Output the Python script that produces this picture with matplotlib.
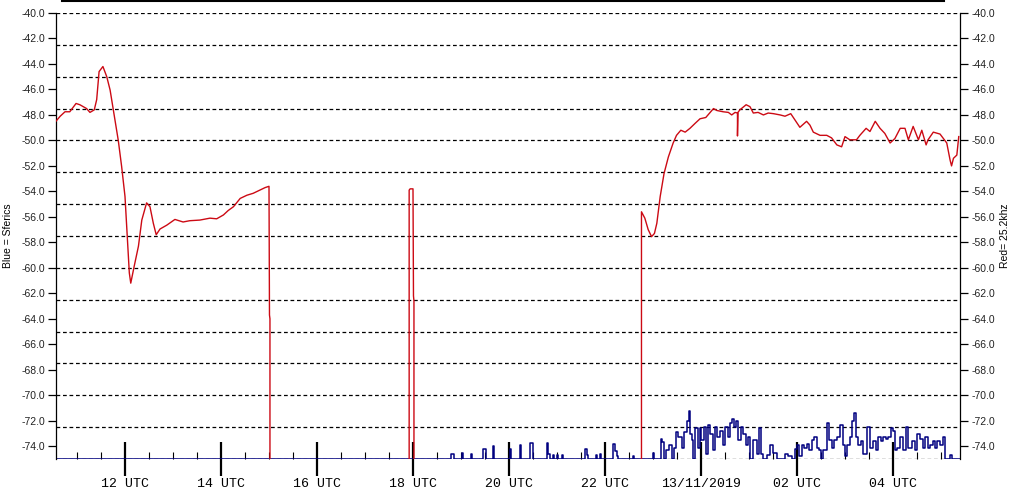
import numpy as np
import matplotlib
matplotlib.use('Agg')
import matplotlib.pyplot as plt
from matplotlib.lines import Line2D
from matplotlib.ticker import MultipleLocator, FormatStrFormatter, FixedLocator

# Time axis: hours since 00 UTC on 12/11/2019
# Red trace (25.2 kHz signal), NaN breaks between the three pieces
red_hours = [
    10.56, 10.65, 10.75, 10.85, 10.98, 11.06, 11.20, 11.27, 11.36, 11.41,
    11.46, 11.54, 11.62, 11.69, 11.77, 11.86, 11.93, 12.00, 12.05, 12.09,
    12.12, 12.19, 12.28, 12.35, 12.45, 12.52, 12.59, 12.65, 12.73, 12.87,
    13.04, 13.21, 13.35, 13.56, 13.77, 13.91, 14.05, 14.15, 14.26, 14.40,
    14.54, 14.67, 14.81, 14.92, 15.00, 15.01, 15.02, 15.02, np.nan,
    17.92, 17.92, 17.94, 18.00, 18.01, 18.02, 18.02, np.nan,
    22.76, 22.76, 22.83, 22.90, 22.97, 23.03, 23.08, 23.15, 23.23, 23.32,
    23.42, 23.49, 23.58, 23.67, 23.77, 23.88, 23.98, 24.10, 24.19, 24.26,
    24.33, 24.46, 24.57, 24.64, 24.71, 24.76, 24.76, 24.77, 24.81, 24.94,
    25.02, 25.09, 25.19, 25.30, 25.40, 25.51, 25.65, 25.75, 25.87, 25.96,
    26.06, 26.20, 26.27, 26.34, 26.48, 26.62, 26.72, 26.83, 26.93, 27.00,
    27.10, 27.24, 27.31, 27.44, 27.52, 27.63, 27.73, 27.83, 27.94, 28.04,
    28.15, 28.25, 28.32, 28.42, 28.53, 28.60, 28.69, 28.73, 28.84, 28.98,
    29.05, 29.12, 29.19, 29.22, 29.26, 29.33, 29.37,
]
red_level = [
    -48.5, -48.1, -47.75, -47.75, -47.1, -47.2, -47.5, -47.8, -47.6, -46.8,
    -44.6, -44.2, -45.0, -46.05, -47.9, -50.0, -52.05, -54.4, -57.8, -60.4,
    -61.2, -59.9, -58.3, -56.25, -54.9, -55.2, -56.5, -57.4, -56.95, -56.65,
    -56.2, -56.4, -56.3, -56.25, -56.1, -56.15, -55.85, -55.5, -55.2, -54.55,
    -54.3, -54.15, -53.9, -53.7, -53.6, -63.7, -64.0, -75.0, np.nan,
    -75.0, -53.9, -53.8, -53.8, -62.2, -62.6, -75.0, np.nan,
    -75.0, -55.6, -56.1, -57.0, -57.55, -57.3, -56.5, -54.4, -52.6, -51.3,
    -50.2, -49.6, -49.2, -49.35, -49.05, -48.65, -48.3, -48.2, -47.8, -47.5,
    -47.65, -47.75, -47.8, -48.0, -47.8, -47.85, -49.65, -47.8, -47.6, -47.2,
    -47.35, -47.85, -47.8, -48.0, -47.85, -47.9, -48.0, -48.1, -47.9, -48.4,
    -48.97, -48.5, -48.8, -49.35, -49.6, -49.6, -49.8, -50.35, -50.5, -49.7,
    -49.95, -49.95, -49.6, -49.05, -49.3, -48.5, -49.05, -49.45, -50.2, -49.85,
    -49.05, -49.05, -49.95, -48.9, -49.95, -49.2, -50.35, -49.95, -49.35, -49.5,
    -49.85, -50.2, -51.55, -52.0, -51.4, -51.15, -49.7,
]

# Blue trace (sferics)
blue_hours = [
    10.56, 18.77, 18.79, 18.83, 18.85, 19.00, 19.02, 19.04, 19.19, 19.20,
    19.23, 19.46, 19.46, 19.50, 19.52, 19.67, 19.67, 19.69, 20.00, 20.02,
    20.04, 20.22, 20.23, 20.25, 20.44, 20.48, 20.50, 20.77, 20.79, 20.81,
    20.85, 20.92, 20.94, 20.99, 21.02, 21.10, 21.13, 21.56, 21.58, 21.63,
    21.65, 21.81, 21.83, 21.90, 21.92, 22.15, 22.17, 22.21, 22.25, 22.27,
    22.58, 22.60, 23.00, 23.02, 23.12, 23.16, 23.19, 23.23, 23.28, 23.34,
    23.40, 23.44, 23.47, 23.53, 23.60, 23.65, 23.70, 23.75, 23.77, 23.81,
    23.83, 23.88, 23.94, 23.98, 24.01, 24.06, 24.10, 24.15, 24.19, 24.24,
    24.29, 24.34, 24.40, 24.45, 24.50, 24.56, 24.60, 24.64, 24.69, 24.73,
    24.78, 24.83, 24.88, 24.94, 24.98, 25.03, 25.09, 25.16, 25.21, 25.25,
    25.30, 25.37, 25.44, 25.51, 25.58, 25.65, 25.75, 25.82, 25.90, 25.96,
    25.99, 26.05, 26.10, 26.15, 26.20, 26.26, 26.31, 26.35, 26.41, 26.46,
    26.51, 26.55, 26.62, 26.67, 26.72, 26.78, 26.83, 26.90, 26.95, 27.00,
    27.04, 27.10, 27.15, 27.19, 27.22, 27.28, 27.33, 27.38, 27.45, 27.52,
    27.59, 27.65, 27.69, 27.74, 27.80, 27.85, 27.90, 27.96, 28.01, 28.04,
    28.09, 28.15, 28.21, 28.27, 28.32, 28.39, 28.46, 28.51, 28.56, 28.62,
    28.67, 28.72, 28.77, 28.83, 28.87, 28.92, 28.98, 29.04, 29.08, 29.15,
    29.19, 29.22, 29.40,
]
blue_level = [
    -75.0, -75.0, -74.6, -74.6, -75.0, -75.0, -74.5, -75.0, -75.0, -74.6,
    -75.0, -75.0, -74.2, -74.2, -75.0, -75.0, -74.0, -75.0, -75.0, -74.2,
    -75.0, -75.0, -73.9, -75.0, -73.75, -73.75, -75.0, -75.0, -73.75, -74.6,
    -75.0, -74.7, -75.0, -74.7, -75.0, -74.7, -75.0, -75.0, -74.2, -74.7,
    -75.0, -74.7, -75.0, -74.6, -75.0, -75.0, -73.85, -74.4, -74.8, -75.0,
    -74.8, -75.0, -74.5, -75.0, -75.0, -73.4, -73.7, -75.0, -74.3, -73.9,
    -75.0, -74.1, -72.9, -73.3, -74.1, -72.9, -72.05, -71.2, -73.0, -73.5,
    -75.0, -72.6, -74.1, -72.6, -73.5, -72.5, -74.6, -72.3, -73.0, -74.3,
    -72.45, -73.3, -72.8, -73.9, -72.5, -73.3, -72.2, -71.9, -72.5, -72.0,
    -73.5, -72.5, -73.0, -73.9, -73.3, -75.0, -73.5, -74.6, -72.6, -74.6,
    -75.0, -74.7, -73.9, -74.5, -75.0, -75.0, -74.6, -74.8, -75.0, -74.2,
    -73.9, -74.8, -73.9, -74.1, -73.8, -74.3, -73.5, -73.25, -74.1, -74.3,
    -75.0, -74.3, -72.2, -73.5, -74.1, -73.5, -73.25, -72.3, -73.9, -74.8,
    -73.9, -73.25, -72.05, -71.4, -73.25, -73.9, -73.6, -74.6, -72.5, -74.1,
    -73.6, -74.3, -73.3, -73.6, -73.25, -73.4, -73.3, -72.6, -72.8, -74.3,
    -74.1, -73.3, -74.3, -72.45, -74.1, -73.6, -74.3, -73.0, -73.4, -74.1,
    -73.3, -74.1, -73.9, -73.6, -74.1, -73.6, -73.9, -73.3, -75.0, -75.0,
    -74.7, -75.0, -75.0,
]

major_hours = [12, 14, 16, 18, 20, 22, 24, 26, 28]
major_labels = ['12 UTC', '14 UTC', '16 UTC', '18 UTC', '20 UTC', '22 UTC',
                '13/11/2019', '02 UTC', '04 UTC']

fig = plt.figure(figsize=(10.16, 5.04), dpi=100)
ax = fig.add_axes([56 / 1016, 45 / 504, 904 / 1016, 446 / 504])

ax.set_xlim(10.5625, 29.396)
ax.set_ylim(-75, -40)

# dashed horizontal grid every 2.5
for g in np.arange(-40, -75.01, -2.5):
    ax.axhline(g, color='black', lw=0.9, dashes=(3.0, 2.2), zorder=1)

ax.plot(red_hours, red_level, color='#cc0a14', lw=1.0, zorder=3)
ax.plot(blue_hours, blue_level, color='#000080', lw=1.1, zorder=2,
        drawstyle='steps-post')

ax.spines['top'].set_visible(False)
ax.spines['bottom'].set_visible(False)
for s in ('left', 'right'):
    ax.spines[s].set_linewidth(0.9)
    ax.spines[s].set_color('black')

# y axis both sides
ax.yaxis.set_major_locator(MultipleLocator(2))
ax.yaxis.set_major_formatter(FormatStrFormatter('%.1f'))
ax.tick_params(axis='y', which='major', left=True, right=True,
               labelleft=True, labelright=True, direction='out',
               length=6, width=0.9, pad=2, labelsize=7.5,
               labelcolor='#222222')
for lab in ax.get_yticklabels():
    lab.set_family('Liberation Sans')

# x axis: big crossing ticks every 2h, small inward ticks every 30 min
ax.xaxis.set_major_locator(FixedLocator(major_hours))
ax.set_xticklabels(major_labels, family='Liberation Mono', fontsize=9.5)
ax.xaxis.set_minor_locator(MultipleLocator(0.5))
ax.tick_params(axis='x', which='major', direction='inout', length=24,
               width=1.6, pad=1.5, colors='black')
ax.tick_params(axis='x', which='minor', direction='in', length=5,
               width=0.8, colors='black')

fig.text(8 / 1016, 1 - 236 / 504, 'Blue = Sferics', rotation=90,
         ha='center', va='center', fontsize=7.5, family='Liberation Sans')
fig.text(1005 / 1016, 1 - 236 / 504, 'Red= 25.2khz', rotation=90,
         ha='center', va='center', fontsize=7.5, family='Liberation Sans')

# black bar along the top edge
fig.add_artist(Line2D([62 / 1016, 944 / 1016], [1 - 0.8 / 504, 1 - 0.8 / 504],
                      transform=fig.transFigure, color='black', lw=1.5))

fig.savefig('out.png', dpi=100)
